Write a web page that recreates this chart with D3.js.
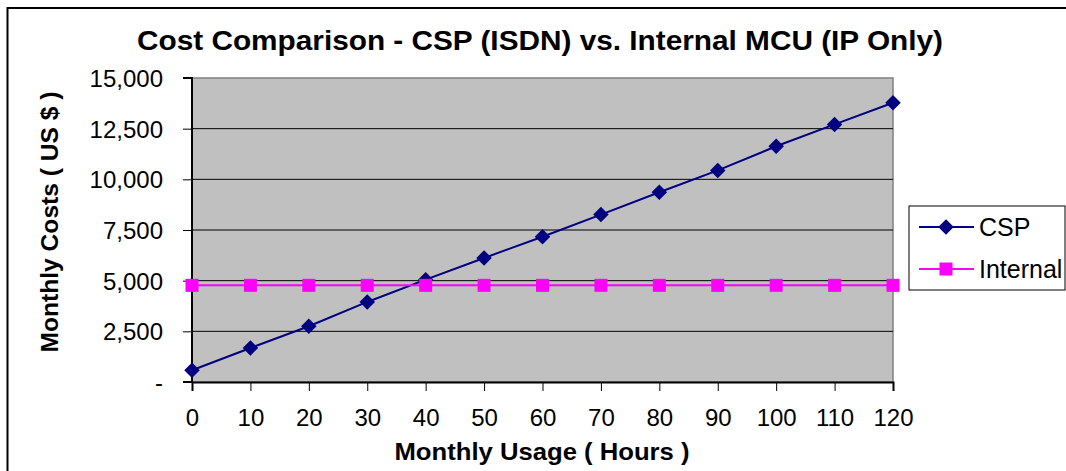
<!DOCTYPE html>
<html>
<head>
<script src="https://d3js.org/d3.v7.min.js"></script>
<style>
body { margin: 0; background: #fff; }
text { font-family: Arial, "Liberation Sans", sans-serif; }
</style>
</head>
<body>
<div id="chart"></div>
<script>
// values
var hours = [0, 10, 20, 30, 40, 50, 60, 70, 80, 90, 100, 110, 120];
var cspCost = [580, 1680, 2750, 3950, 5050, 6120, 7170, 8260, 9360, 10440, 11630, 12710, 13780];
var internalCost = [4770, 4770, 4770, 4770, 4770, 4770, 4770, 4770, 4770, 4770, 4770, 4770, 4770];
var yTicks = [0, 2500, 5000, 7500, 10000, 12500, 15000];
var seriesNames = ["CSP", "Internal"];

const W = 1066, H = 471;
const margin = {top: 78, right: 173, bottom: 89, left: 192};
const width = W - margin.left - margin.right;
const height = H - margin.top - margin.bottom;

var svg = d3.select("#chart").append("svg")
  .attr("width", W).attr("height", H);

// outer frame
svg.append("path")
  .attr("d", "M7.5," + H + "V8H" + W)
  .attr("fill", "none").attr("stroke", "#000").attr("stroke-width", 2);

var g = svg.append("g")
  .attr("transform", "translate(" + margin.left + "," + margin.top + ")");

var x = d3.scaleLinear().domain([0, 120]).range([0, width]);
var y = d3.scaleLinear().domain([0, 15000]).range([height, 0]);

g.append("rect")
  .attr("width", width).attr("height", height)
  .attr("fill", "#c0c0c0").attr("stroke", "#808080").attr("stroke-width", 1.5);

// gridlines
g.selectAll(".grid")
  .data(yTicks.filter(function(d) { return d > 0 && d < 15000; }))
  .enter().append("line")
    .attr("x1", 0).attr("x2", width)
    .attr("y1", function(d) { return y(d); })
    .attr("y2", function(d) { return y(d); })
    .attr("stroke", "#000").attr("stroke-width", 1);

var yAxis = g.append("g")
  .call(d3.axisLeft(y).tickValues(yTicks).tickSize(9).tickPadding(20)
    .tickFormat(function(d) { return d === 0 ? "-" : d3.format(",")(d); }));

var xAxis = g.append("g")
  .attr("transform", "translate(0," + height + ")")
  .call(d3.axisBottom(x).tickValues(hours).tickSize(9).tickPadding(18));

[yAxis, xAxis].forEach(function(a) {
  a.select(".domain").attr("stroke", "#000").attr("stroke-width", 2);
  a.selectAll(".tick line").attr("stroke", "#000");
  a.selectAll("text").attr("font-size", 24).attr("fill", "#000")
    .style("font-family", "Arial, 'Liberation Sans', sans-serif");
});
yAxis.select(".domain").attr("d", "M-9,0H0V" + height + "H-9");
yAxis.selectAll("text").attr("dy", "0.36em");

var line = d3.line()
  .x(function(d, i) { return x(hours[i]); })
  .y(function(d) { return y(d); });

g.append("path").datum(cspCost)
  .attr("d", line).attr("fill", "none")
  .attr("stroke", "#000080").attr("stroke-width", 2);

g.append("path").datum(internalCost)
  .attr("d", line).attr("fill", "none")
  .attr("stroke", "#ff00ff").attr("stroke-width", 2);

g.selectAll(".csp").data(cspCost).enter().append("path")
  .attr("d", d3.symbol(d3.symbolSquare, 120))
  .attr("transform", function(d, i) { return "translate(" + x(hours[i]) + "," + y(d) + ") rotate(45)"; })
  .attr("fill", "#000080");

g.selectAll(".int").data(internalCost).enter().append("rect")
  .attr("x", function(d, i) { return x(hours[i]) - 6.5; })
  .attr("y", function(d) { return y(d) - 6.5; })
  .attr("width", 13).attr("height", 13)
  .attr("fill", "#ff00ff");

// title and axis titles
svg.append("text")
  .attr("x", 540).attr("y", 50)
  .attr("text-anchor", "middle")
  .attr("font-size", 28).attr("font-weight", "bold")
  .attr("textLength", 806).attr("lengthAdjust", "spacingAndGlyphs")
  .text("Cost Comparison - CSP (ISDN) vs. Internal MCU (IP Only)");

svg.append("text")
  .attr("x", 542).attr("y", 460)
  .attr("text-anchor", "middle")
  .attr("font-size", 24).attr("font-weight", "bold")
  .attr("textLength", 295).attr("lengthAdjust", "spacingAndGlyphs")
  .text("Monthly Usage ( Hours )");

svg.append("text")
  .attr("transform", "translate(58,222) rotate(-90)")
  .attr("text-anchor", "middle")
  .attr("font-size", 24).attr("font-weight", "bold")
  .attr("textLength", 261).attr("lengthAdjust", "spacingAndGlyphs")
  .text("Monthly Costs ( US $ )");

// legend
var lg = svg.append("g").attr("transform", "translate(909,206)");
lg.append("rect").attr("width", 156).attr("height", 84)
  .attr("fill", "#fff").attr("stroke", "#000").attr("stroke-width", 1);

var colors = ["#000080", "#ff00ff"];
seriesNames.forEach(function(name, i) {
  var yy = 21 + i * 42;
  lg.append("line").attr("x1", 10).attr("x2", 65).attr("y1", yy).attr("y2", yy)
    .attr("stroke", colors[i]).attr("stroke-width", 2);
  if (i === 0) {
    lg.append("path").attr("d", d3.symbol(d3.symbolSquare, 120))
      .attr("transform", "translate(37," + yy + ") rotate(45)")
      .attr("fill", colors[i]);
  } else {
    lg.append("rect").attr("x", 30.5).attr("y", yy - 6.5).attr("width", 13).attr("height", 13)
      .attr("fill", colors[i]);
  }
  lg.append("text").attr("x", 70).attr("y", yy + 9)
    .attr("font-size", 25).text(name);
});
</script>
</body>
</html>
